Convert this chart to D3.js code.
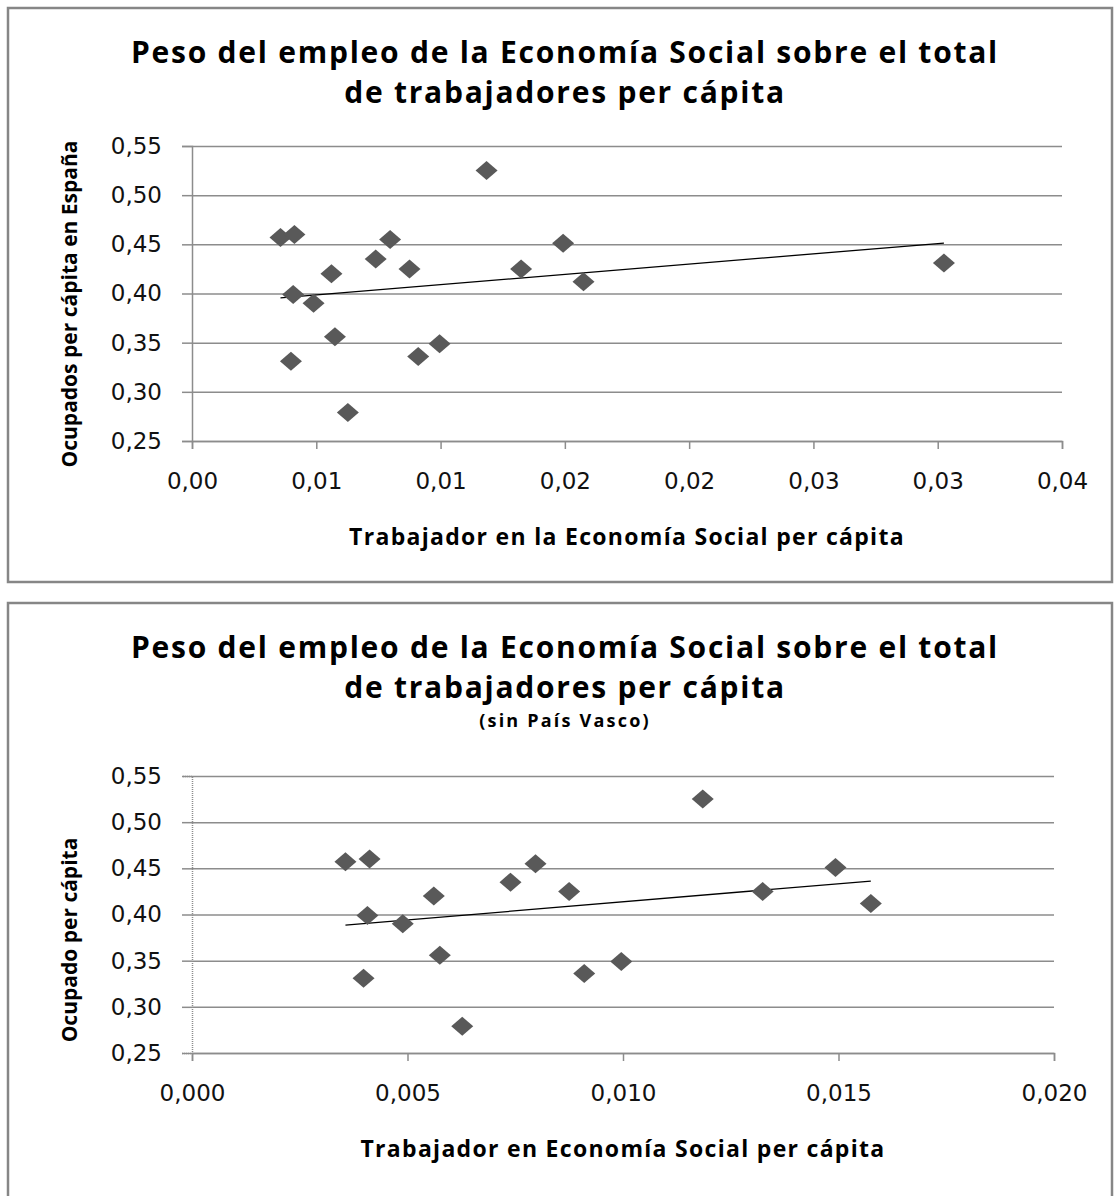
<!DOCTYPE html>
<html>
<head>
<meta charset="utf-8">
<script src="https://cdn.jsdelivr.net/npm/d3@7"></script>
<style>
  body { margin: 0; background: #fff; }
  svg { display: block; }
  .frame { fill: #fff; stroke: #868686; stroke-width: 2.5; }
  .title { font-family: "Open Sans", sans-serif; font-weight: 700; fill: #000; text-anchor: middle; }
  .axis-title { font-family: "Open Sans", sans-serif; font-weight: 700; fill: #000; text-anchor: middle; }
  .tick text { font-family: "DejaVu Sans", Verdana, sans-serif; font-size: 23px; fill: #111; }
  .grid line { stroke: #8c8c8c; stroke-width: 1.5; }
  .grid .domain { display: none; }
  .axis path, .axis line { stroke: #8c8c8c; stroke-width: 1.5; }
  .pt { fill: #595959; }
  .trend { stroke: #000; stroke-width: 1.3; fill: none; }
</style>
</head>
<body>
<svg id="canvas" width="1117" height="1196"></svg>
<script>
// ---------- datos ----------
// trabajadores en Economía Social per cápita, por comunidad autónoma
const esPerCapita = [
  0.00356, 0.00412, 0.00407, 0.00489, 0.00398, 0.00561, 0.00575, 0.00627,
  0.00739, 0.00797, 0.00875, 0.00910, 0.00996, 0.01185, 0.01324, 0.01493,
  0.01575, 0.03025
];
// ocupados per cápita en España
const ocupadosPerCapita = [
  0.457, 0.460, 0.399, 0.390, 0.331, 0.420, 0.356, 0.279,
  0.435, 0.455, 0.425, 0.336, 0.349, 0.525, 0.425, 0.451,
  0.412, 0.431
];
// el último punto es el País Vasco
const paisVascoIndex = 17;

const yTicks = [0.25, 0.30, 0.35, 0.40, 0.45, 0.50, 0.55];
const yTickLabels = ["0,25", "0,30", "0,35", "0,40", "0,45", "0,50", "0,55"];

const xTicksTop = [0, 0.005, 0.010, 0.015, 0.020, 0.025, 0.030, 0.035];
const xTickLabelsTop = ["0,00", "0,01", "0,01", "0,02", "0,02", "0,03", "0,03", "0,04"];

const xTicksBottom = [0, 0.005, 0.010, 0.015, 0.020];
const xTickLabelsBottom = ["0,000", "0,005", "0,010", "0,015", "0,020"];

const titleLines = ["Peso del empleo de la Economía Social sobre el total", "de trabajadores per cápita"];

(function () {
  const svg = d3.select("#canvas");

  // ---------- configuración de los dos gráficos ----------
  const charts = [
    {
      frame: { x: 8, y: 8, w: 1104, h: 574 },
      plot: { left: 192, right: 1062, top: 146, bottom: 441 },
      xTicks: xTicksTop, xLabels: xTickLabelsTop,
      subtitle: null,
      xTitle: "Trabajador en la Economía Social per cápita",
      yTitle: "Ocupados per cápita en España",
      yTitleY: 304,
      idx: d3.range(esPerCapita.length),
      dottedAxis: false
    },
    {
      frame: { x: 8, y: 603, w: 1104, h: 620 },
      plot: { left: 192, right: 1054, top: 776, bottom: 1053 },
      xTicks: xTicksBottom, xLabels: xTickLabelsBottom,
      subtitle: "(sin País Vasco)",
      xTitle: "Trabajador en Economía Social per cápita",
      yTitle: "Ocupado per cápita",
      yTitleY: 940,
      idx: d3.range(esPerCapita.length).filter(i => i !== paisVascoIndex),
      dottedAxis: true
    }
  ];

  const diamond = "M0,-9.5L11,0L0,9.5L-11,0Z";

  charts.forEach(c => {
    const g = svg.append("g");
    const f = c.frame, p = c.plot;

    // marco
    g.append("rect").attr("class", "frame")
      .attr("x", f.x).attr("y", f.y).attr("width", f.w).attr("height", f.h);

    // títulos
    titleLines.forEach((t, i) => {
      g.append("text").attr("class", "title")
        .attr("x", 565).attr("y", f.y + 55 + i * 40)
        .style("font-size", "30px")
        .style("letter-spacing", "1.75px")
        .text(t);
    });
    if (c.subtitle) {
      g.append("text").attr("class", "title")
        .attr("x", 565).attr("y", f.y + 124)
        .style("font-size", "18px")
        .style("letter-spacing", "2.2px")
        .text(c.subtitle);
    }

    // escalas
    const x = d3.scaleLinear()
      .domain([c.xTicks[0], c.xTicks[c.xTicks.length - 1]])
      .range([p.left, p.right]);
    const y = d3.scaleLinear()
      .domain([yTicks[0], yTicks[yTicks.length - 1]])
      .range([p.bottom, p.top]);

    // líneas de cuadrícula horizontales
    g.append("g").attr("class", "grid")
      .attr("transform", `translate(${p.left},0)`)
      .call(d3.axisLeft(y).tickValues(yTicks).tickSize(-(p.right - p.left)).tickFormat(""));

    // eje Y
    const yAxis = g.append("g").attr("class", "axis")
      .attr("transform", `translate(${p.left},0)`)
      .call(d3.axisLeft(y).tickValues(yTicks).tickSizeOuter(0).tickSize(10).tickPadding(20)
        .tickFormat((d, i) => yTickLabels[i]));
    if (c.dottedAxis) yAxis.select(".domain").style("stroke-dasharray", "1,1");

    // eje X
    g.append("g").attr("class", "axis")
      .attr("transform", `translate(0,${p.bottom})`)
      .call(d3.axisBottom(x).tickValues(c.xTicks).tickSizeOuter(0).tickSize(8).tickPadding(24)
        .tickFormat((d, i) => c.xLabels[i]));

    // títulos de ejes
    g.append("text").attr("class", "axis-title")
      .attr("x", (p.left + p.right) / 2).attr("y", p.bottom + 104)
      .style("font-size", "23px")
      .style("letter-spacing", "1.3px")
      .text(c.xTitle);
    g.append("text").attr("class", "axis-title")
      .attr("transform", `translate(77,${c.yTitleY}) rotate(-90)`)
      .style("font-size", "21px")
      .text(c.yTitle);

    // línea de tendencia (regresión lineal por mínimos cuadrados)
    const xs = c.idx.map(i => esPerCapita[i]);
    const ys = c.idx.map(i => ocupadosPerCapita[i]);
    const mx = d3.mean(xs), my = d3.mean(ys);
    const slope = d3.sum(xs, (v, k) => (v - mx) * (ys[k] - my)) / d3.sum(xs, v => (v - mx) * (v - mx));
    const icpt = my - slope * mx;
    const [x0, x1] = d3.extent(xs);
    g.append("line").attr("class", "trend")
      .attr("x1", x(x0)).attr("y1", y(icpt + slope * x0))
      .attr("x2", x(x1)).attr("y2", y(icpt + slope * x1));

    // puntos (rombos)
    g.append("g").selectAll("path")
      .data(c.idx)
      .join("path")
      .attr("class", "pt")
      .attr("d", diamond)
      .attr("transform", i => `translate(${x(esPerCapita[i])},${y(ocupadosPerCapita[i])})`);
  });
})();
</script>
</body>
</html>
